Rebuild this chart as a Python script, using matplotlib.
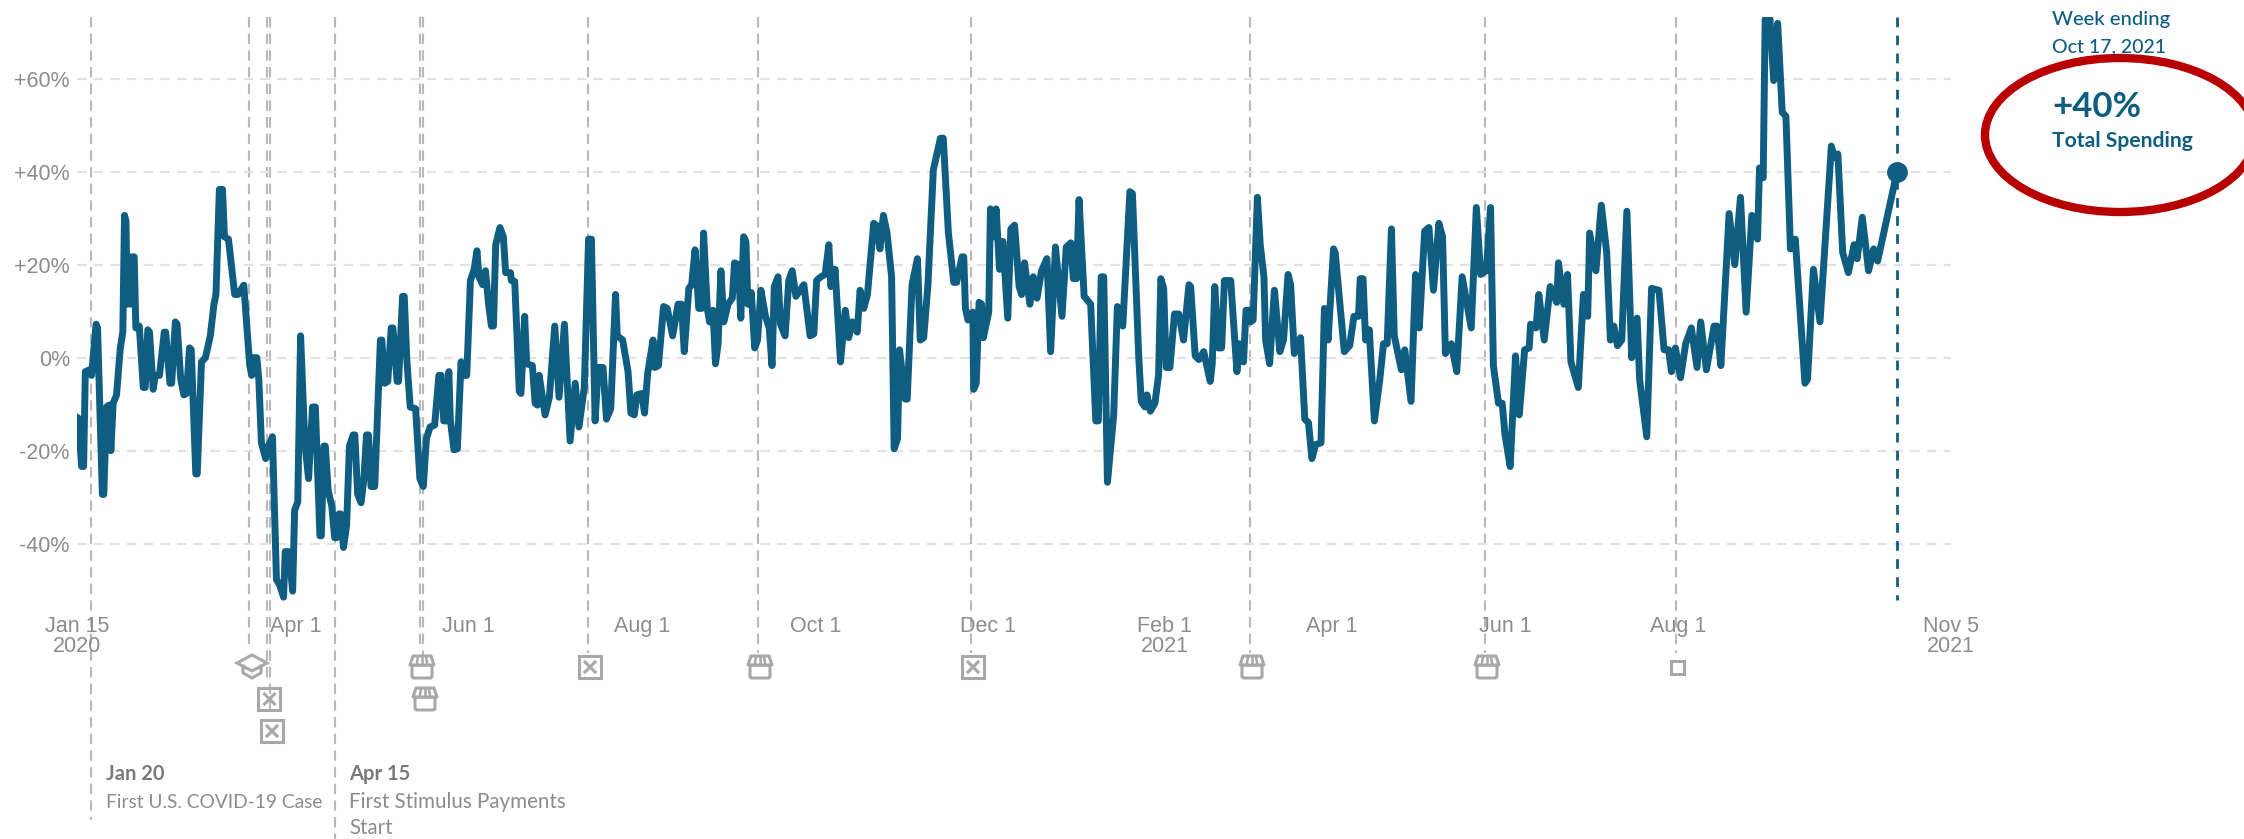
import matplotlib
matplotlib.use('Agg')
import matplotlib.pyplot as plt
from matplotlib.patches import Ellipse, FancyBboxPatch, Rectangle, Polygon

# days since Jan 15 2020
days = [
    0,0.5,1.7,2.4,3,4.5,5.2,6.8,7.3,9,
    9.5,10.5,11.3,12,12.8,14,15.3,16.2,16.8,17.3,
    17.8,18.4,19,19.6,20.2,20.8,22,23.4,24.1,25,
    25.6,26.9,27.6,29.1,30.8,31.3,32.8,33.4,34.7,35.3,
    36.6,37.7,38.6,39.7,40.3,41.9,42.4,43.9,45.3,47,
    48.3,49,50.2,51.3,52,53.4,55.6,56.8,58.8,59.6,
    60.9,61.6,62.2,63.4,64.1,65,66.5,67.5,68.9,70.3,
    71.5,72.8,73.4,74.7,76,76.7,77.8,78.8,80.3,81.6,
    83,84,85.6,86.1,87,87.5,88.5,89.8,90.8,91.5,
    92.3,92.9,93.9,95,96,97.3,97.9,98.9,100.1,101.1,
    102,102.7,103.6,104.9,106.9,107.4,108.4,109.5,110.7,111.3,
    112.8,113.3,114.7,115.3,116.2,117.4,119.3,120.8,122,123.1,
    124.4,126,127.5,128.3,129.2,130.1,131,131.5,132.8,134,
    135.3,136.3,137.3,138.6,139.9,140.9,141.6,142.9,143.9,145,
    146,146.7,147.5,149,150.2,151,152.7,153,154.2,155.8,
    156.4,157.7,158.4,160.4,161.4,162.2,162.8,164.9,166.4,168.3,
    169.8,171.7,173.7,175.5,176.8,178.7,180.2,181.2,182.5,183.6,
    185.3,186.5,188,189.7,190.3,192.2,194.1,195.1,196.3,197.2,
    198.9,199.9,201,202.9,203.5,204.8,206.6,207.9,209.8,211.7,
    212.9,213.9,215.5,216.5,217.7,219,220,220.7,222,222.8,
    224,224.9,225.8,226.8,227.8,229.3,230.8,231.6,233,233.8,
    234.8,235.6,236.3,237.5,238.7,239.7,240.9,242.5,243.8,244.8,
    245.6,246.9,247.8,249.4,250.7,251.9,253.2,256,258.2,259.5,
    260.5,262,263.5,264.8,265.5,267,268.9,270.6,271.8,273,
    274.8,275.8,277.1,278.4,280.6,281.5,282.8,284,285.3,286.9,
    287.8,289,289.7,291.7,292.4,294.1,296,297,298.2,299.7,
    301.6,304.1,305.1,306.9,308.8,309.8,311.7,312.3,312.9,313.8,
    315.5,315.8,316.7,317.7,318.6,319.2,321.1,321.7,322.7,323.7,
    324.9,326.1,327.8,328.9,330.2,331.8,332.7,333.7,335.6,336.8,
    338.1,339.7,341.6,342.9,344.6,346.9,348.4,350,350.9,352,
    352.9,354.7,357,358.8,359.7,360.7,361.6,362.9,365.1,366.4,
    368.3,370.8,371.7,373.9,374.8,376.1,376.8,378,379.6,380.9,
    381.7,382.7,383.6,384.9,386.5,388,389.7,391.6,392.2,393.8,
    395.1,396.8,399.1,399.8,400.7,402,403.1,404.1,406.3,408.5,
    409.4,410.8,411.7,412.7,413.3,414.2,415.7,416.7,418,418.6,
    420,421.7,423.6,424.9,426.5,427.4,428.7,430.9,432.4,433.7,
    434.9,436.2,438.1,439.3,440.6,442.5,443.1,446.3,448.2,449.7,
    451.3,451.9,452.9,453.8,455.1,456.9,458.8,460.1,461.4,462.9,
    463.9,466.4,467.6,469.8,471.4,472.7,474.6,476.1,477.7,479.6,
    480.9,481.9,484,485.9,487.8,491,492.8,494.3,496.3,497.8,
    498.8,500.6,501.9,502.9,504.7,506.6,507.9,509.8,511.4,511.9,
    513.8,514.8,516.7,518.8,521.1,521.7,523.6,524.9,526.1,528.7,
    530.5,532,532.7,534.9,536.8,538.7,540,541.2,542.5,544,
    545.8,547.5,549.4,550.3,552.8,554.5,557.1,558.9,560.5,561.5,
    562.9,564.7,566.5,568.5,570.5,571.8,573.8,576.5,577.5,578.9,
    581.8,583.8,585.8,587.8,589.8,591.8,592.5,593.8,594.5,596.2,
    597.5,598.9,600.5,601.8,603.4,605.1,608.5,609.4,611.5,613.8,
    617.8,618.9,620.1,621.8,623.8,625.8,626.9,628.7,630.9,632.7,
    634.1,641,
]
spending = [
    -12.8,-13,-23.4,-23.4,-3,-2.6,-3.8,7.2,6.4,-29.4,
    -29.4,-10.6,-10.2,-20,-9.8,-8,2,5.5,30.6,29.4,
    11.5,21.7,11.5,21.7,21.7,6.4,6.8,-6.4,-6.4,6,
    5.5,-6.8,-3.8,-3.8,5.5,5.5,-5.5,-5.5,7.7,7.2,
    -4.7,-8,-7.7,2.1,1.7,-25,-25,-0.9,0,4.7,
    11.5,13.6,36.2,36.2,26,25.5,13.6,13.6,15.6,8.9,
    -1.7,-3.8,0,0,-4.7,-18.3,-21.7,-19,-17,-47.7,
    -49,-51.5,-41.7,-41.7,-50.2,-32.8,-31,4.7,-18.3,-26,
    -10.6,-10.6,-38.3,-38.3,-19,-19,-28.5,-32,-38.7,-38.7,
    -33.6,-33.6,-40.8,-36,-19,-16.6,-16.6,-29.4,-31.2,-26,
    -16.6,-16.6,-27.7,-27.7,3.8,3.8,-5.5,-5.1,6.4,6.4,
    -5.1,-5.1,13.2,13.2,-0.4,-10.6,-11,-26,-27.7,-17.4,
    -14.9,-14.5,-3.8,-3.8,-13.6,-13.6,-3,-13.2,-19.8,-19.6,
    -0.9,-3.8,-3.8,16.6,19,23,17.4,15.7,18.7,11.5,
    6.8,6.8,24.3,28,26,18.3,18.3,16.6,16.4,-7.2,
    -7.7,8.9,-1.3,-1.7,-9.8,-10.2,-3.8,-12.3,-8.5,6.8,
    -8.5,7.2,-17.9,-5.5,-14.9,-6.4,25.5,25.5,-13.6,-2.1,
    -2.1,-13.2,-11,13.6,4.7,3.8,-3,-11.9,-12.3,-8,
    -7.7,-11.9,-3.4,3.8,-2.1,-1.7,11,10.6,4.7,11.5,
    11.5,1.3,14.9,15.7,23.2,10.6,10.6,26.8,10.6,7.7,
    10.2,-1.3,3,18.7,7.7,11.5,12.8,20.4,20,8.5,
    26,25,11.5,14,2.1,3.8,14.5,8.9,6.4,-1.7,
    15.3,17.4,7.2,4.7,16.6,18.7,13.2,15.7,4.7,5.1,
    16.6,17.4,17.9,24.3,15.3,19,-0.9,10.2,4.3,7.7,
    5.5,14.5,10.6,13.6,28.9,28.5,23.4,30.6,26.8,17.4,
    -19.6,-17.4,1.7,-8.9,-8.9,15.7,21.3,3.8,4.3,15.7,
    40.4,47.2,47.2,26.8,16.2,16.2,21.7,21.7,10.6,8.1,
    9.8,-6.8,-5.5,11.9,11.5,4.3,9.8,32,26,32,
    19,25,8.5,27.7,28.5,15.3,13.6,20.4,11.5,17.4,
    12.8,18.7,21.3,1.3,23.8,8.9,23.8,24.7,17,17,
    34,13.2,11.5,-13.6,-13.6,17.4,17.4,-26.8,-12.3,11,
    6.8,35.7,35.3,0.4,-9.4,-10.6,-8,-11.5,-9.8,-3.8,
    17,14.9,-2.1,-2.1,9.4,9.4,3.8,15.7,15.3,0.4,
    -0.4,1.3,-5.1,-1.3,15.3,2.1,2.1,16.6,16.6,-3,
    3,-0.9,10.2,10.2,7.7,8.1,34.5,24.3,17.4,3.8,
    -1.3,14.5,1.3,3.8,17.9,15.7,0.9,4.3,-13.2,-14,
    -21.7,-18.7,-18.3,10.6,3.8,23.4,22.6,1.3,2.6,8.9,
    8.9,17,17,3.8,6,-13.6,-4.7,3,3,27.7,
    4.7,-2.6,1.7,-9.4,17.9,6.4,27.2,28,14.5,28.9,
    26,0.9,3,-3,17.4,6.4,32.3,17.9,18.7,32.3,
    -1.7,-9.8,-9.8,-16.6,-23.4,0.4,-12.3,1.7,2.1,7.2,
    6.4,13.6,3.8,15.3,11.9,20.4,11.5,17.9,-0.9,-6.4,
    13.6,8.9,26.8,18.7,32.8,22.6,3.8,6.8,2.6,3.8,
    31.5,0,8.5,-4.7,-17,14.9,14.5,1.7,1.7,-3,
    2.1,-4.3,3,6.4,-2.1,7.7,-2.6,6.8,6.8,-1.7,
    31,20,34.5,9.8,30.6,25.5,40.8,38.7,72.8,72.8,
    59.6,71.9,52.8,51.9,23.4,25.5,-5.5,-4.7,19,7.7,
    45.5,43,43.8,22.6,18.3,24.3,21.3,30.2,18.7,23.4,
    20.8,40.2,
]

y_ticks = [-40, -20, 0, 20, 40, 60]
y_labels = ['-40%', '-20%', '0%', '+20%', '+40%', '+60%']
x_ticks = [0, 77, 138, 199, 260, 321, 383, 442, 503, 564, 660]
x_labels = ['Jan 15\n2020', 'Apr 1', 'Jun 1', 'Aug 1', 'Oct 1', 'Dec 1',
            'Feb 1\n2021', 'Apr 1', 'Jun 1', 'Aug 1', 'Nov 5\n2021']
# event lines: day, lower end in picture pixels
event_days = [5, 60.8, 67, 68, 91, 121, 122, 180, 240, 315, 413, 496, 563]
event_ends = [820, 650, 680, 716, 839, 645, 678, 653, 653, 653, 653, 653, 653]
last_day = 641
last_value = 40

BLUE = '#0f5e82'
GREY = '#8c8c8c'
W, H = 2244, 839
PX_DAY = 2.84
PX_PCT = 4.65
X0, Y0 = 76.8, 357.7

plt.rcParams['font.family'] = ['Liberation Sans', 'DejaVu Sans']
fig = plt.figure(figsize=(W / 100, H / 100), dpi=100)

# plot area, placed so that one day and one percent have the picture's size
top_px, bottom_px = 17, 610
ax = fig.add_axes([X0 / W, 1 - bottom_px / H, 660 * PX_DAY / W, (bottom_px - top_px) / H])
ax.set_xlim(0, 660)
ax.set_ylim((Y0 - bottom_px) / PX_PCT, (Y0 - top_px) / PX_PCT)
for s in ax.spines.values():
    s.set_visible(False)
ax.set_yticks(y_ticks, y_labels)
ax.set_xticks(x_ticks, x_labels, linespacing=0.95)
ax.tick_params(axis='both', length=0, labelsize=15.5, labelcolor=GREY)
ax.tick_params(axis='y', pad=5)
ax.tick_params(axis='x', pad=4.5)
ax.grid(axis='y', color='#e2e2e2', linewidth=1.5, linestyle=(0, (4.5, 3.5)), zorder=0)

for d, end in zip(event_days, event_ends):
    ax.plot([d, d], [(Y0 - top_px) / PX_PCT, (Y0 - end) / PX_PCT], color='#b9b9b9',
            linewidth=1.5, linestyle=(0, (5, 3)), clip_on=False, zorder=1)

ax.plot(days, spending, color=BLUE, linewidth=5, solid_joinstyle='round', zorder=3)
ax.plot([last_day, last_day], [(Y0 - top_px) / PX_PCT, (Y0 - 600) / PX_PCT], color=BLUE,
        linewidth=2, linestyle=(0, (3.5, 3)), zorder=2)
ax.plot([last_day], [last_value], 'o', color=BLUE, markersize=14, zorder=4)

# second axes in picture pixels for icons and notes
deco = fig.add_axes([0, 0, 1, 1], facecolor='none')
deco.set_xlim(0, W)
deco.set_ylim(H, 0)
deco.axis('off')

ICON = '#a8a8a8'

def x_box(cx, cy):
    deco.add_patch(Rectangle((cx - 11, cy - 11), 22, 22, fill=False, edgecolor=ICON, linewidth=2.2))
    deco.plot([cx - 5, cx + 5], [cy - 5, cy + 5], color=ICON, linewidth=2.2)
    deco.plot([cx - 5, cx + 5], [cy + 5, cy - 5], color=ICON, linewidth=2.2)

def store(cx, cy):
    deco.add_patch(FancyBboxPatch((cx - 10, cy - 2), 20, 13, boxstyle='round,pad=0,rounding_size=2',
                                  fill=True, facecolor='white', edgecolor=ICON, linewidth=2.2))
    deco.add_patch(Polygon([(cx - 9, cy - 11), (cx + 9, cy - 11), (cx + 12, cy - 2), (cx - 12, cy - 2)],
                           closed=True, fill=True, facecolor='white', edgecolor=ICON, linewidth=2.2,
                           joinstyle='round'))
    for dx in (-4, 0, 4):
        deco.plot([cx + dx, cx + dx * 1.3], [cy - 10, cy - 3], color=ICON, linewidth=1.8)

def cap(cx, cy):
    deco.add_patch(Polygon([(cx - 15, cy - 3), (cx, cy - 11), (cx + 15, cy - 3), (cx, cy + 5)],
                           closed=True, fill=True, facecolor='white', edgecolor=ICON, linewidth=2.2))
    deco.plot([cx - 9, cx - 9, cx, cx + 9, cx + 9], [cy, cy + 7, cy + 12, cy + 7, cy],
              color=ICON, linewidth=2.2)

cap(252, 666)
x_box(269.5, 699)
x_box(272, 731)
store(422, 667)
store(425, 699)
x_box(590, 667)
store(760, 667)
x_box(973, 667)
store(1252, 667)
store(1487, 667)
deco.add_patch(Rectangle((1671, 661), 13, 13, fill=False, edgecolor=ICON, linewidth=2.2))

note = {'fontfamily': ['Lato', 'DejaVu Sans'], 'va': 'center'}
deco.text(106, 774, 'Jan 20', color='#7a7a7a', fontsize=14.5, fontweight='bold', **note)
deco.text(106, 802, 'First U.S. COVID-19 Case', color=GREY, fontsize=13.8, **note)
deco.text(349, 774, 'Apr 15', color='#7a7a7a', fontsize=14.5, fontweight='bold', **note)
deco.text(349, 802, 'First Stimulus Payments', color=GREY, fontsize=14.8, **note)
deco.text(349, 828, 'Start', color=GREY, fontsize=14.8, **note)

deco.text(2052, 20, 'Week ending', color=BLUE, fontsize=14.6, fontweight='medium', **note)
deco.text(2052, 47, 'Oct 17, 2021', color=BLUE, fontsize=14, fontweight='medium', **note)
deco.text(2052, 107, '+40%', color=BLUE, fontsize=25, fontweight='bold', **note)
deco.text(2052, 141, 'Total Spending', color=BLUE, fontsize=15.2, fontweight='bold', **note)

deco.add_patch(Ellipse((2120, 135), 270, 154, fill=False, edgecolor='#b80000', linewidth=6))

fig.savefig('out.png', dpi=100)
